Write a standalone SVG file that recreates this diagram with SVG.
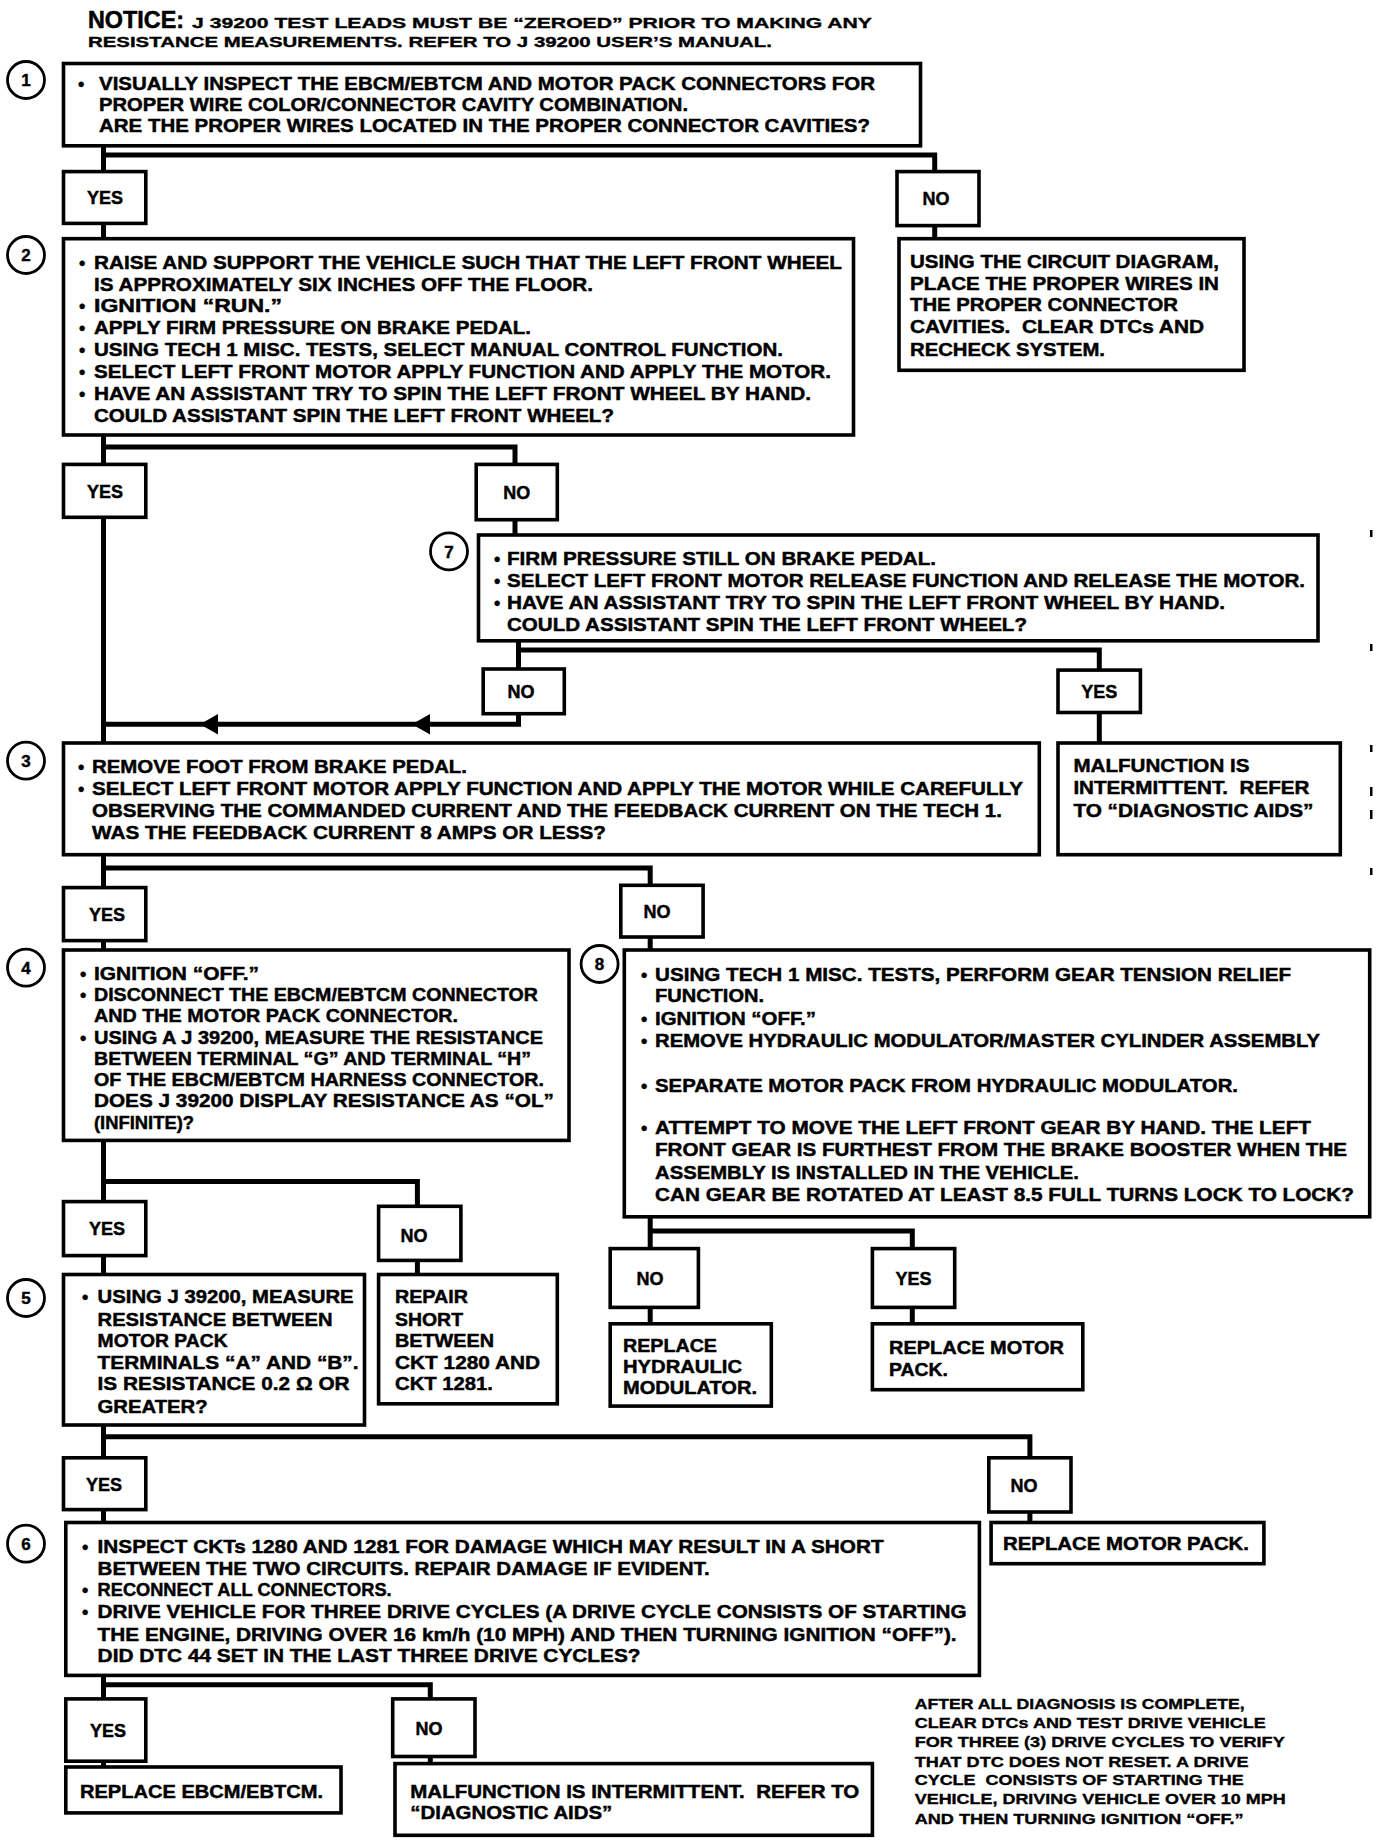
<svg xmlns="http://www.w3.org/2000/svg" width="1392" height="1844" viewBox="0 0 1392 1844">
<style>
.bg{fill:#fff}
.box{fill:#fff;stroke:#000;stroke-width:3.6}
.conn{fill:none;stroke:#000;stroke-width:5;stroke-linejoin:miter}
.arr{fill:#000}
.cir{fill:#fff;stroke:#000;stroke-width:2.8}
.t{font-family:"Liberation Sans",Arial,Helvetica,sans-serif;font-weight:bold;font-size:18px;fill:#000;stroke:#000;stroke-width:0.45}
.s{font-size:15px;stroke-width:0.35}
.lbl{text-anchor:middle}
.num{font-family:"Liberation Sans",Arial,sans-serif;font-weight:bold;font-size:17px;text-anchor:middle;fill:#000;stroke:#000;stroke-width:0.4}
.hd1{font-size:23px;stroke-width:0.5}
.tick{fill:#000}
</style>
<rect class="bg" x="0" y="0" width="1392" height="1844"/>

<g id="notice">
<text class="t hd1" x="88" y="28" textLength="96" lengthAdjust="spacingAndGlyphs">NOTICE:</text>
<text class="t s" x="192" y="28" textLength="680" lengthAdjust="spacingAndGlyphs">J 39200 TEST LEADS MUST BE “ZEROED” PRIOR TO MAKING ANY</text>
<text class="t s" x="88" y="47" textLength="684" lengthAdjust="spacingAndGlyphs">RESISTANCE MEASUREMENTS. REFER TO J 39200 USER’S MANUAL.</text>
</g>

<g id="connectors">
<path class="conn" d="M103.5,146 V172 M103.5,155 H934.7 V172"/>
<path class="conn" d="M103.5,223 V239"/>
<path class="conn" d="M934.7,226 V239"/>
<path class="conn" d="M103.5,435 V464 M103.5,447 H515 V464"/>
<path class="conn" d="M515,520 V535"/>
<path class="conn" d="M518.5,641 V669 M518.5,650 H1099.3 V670"/>
<path class="conn" d="M1099.3,712 V743"/>
<path class="conn" d="M518.5,713 V724.2 H103.5"/>
<polygon class="arr" points="200,724.2 218,714 218,734.4"/>
<polygon class="arr" points="412,724.2 430,714 430,734.4"/>
<path class="conn" d="M103.5,517 V743"/>
<path class="conn" d="M103.5,855 V888 M103.5,868 H650.2 V885"/>
<path class="conn" d="M103.5,940 V950"/>
<path class="conn" d="M650.2,937 V950"/>
<path class="conn" d="M103.5,1140 V1202 M103.5,1181.6 H417.4 V1206"/>
<path class="conn" d="M103.5,1255 V1275"/>
<path class="conn" d="M417.4,1260 V1275"/>
<path class="conn" d="M650.2,1217 V1249 M650.2,1231 H912.3 V1249"/>
<path class="conn" d="M650.2,1307 V1324"/>
<path class="conn" d="M912.3,1307 V1324"/>
<path class="conn" d="M103.5,1425 V1458 M103.5,1436.7 H1029.9 V1458"/>
<path class="conn" d="M103.5,1509 V1523"/>
<path class="conn" d="M1029.9,1512 V1523"/>
<path class="conn" d="M103.5,1675 V1699 M103.5,1684.8 H430.3 V1699"/>
<path class="conn" d="M103.5,1761 V1767"/>
<path class="conn" d="M430.3,1756 V1764"/>
</g>

<g id="step1">
<circle class="cir" cx="26" cy="80" r="18.5"/>
<text class="num" x="26" y="86">1</text>
<rect class="box" x="63.5" y="63.5" width="857" height="82.3"/>
<text class="t" x="78" y="90">•</text>
<text class="t" x="99" y="90" textLength="776" lengthAdjust="spacingAndGlyphs">VISUALLY INSPECT THE EBCM/EBTCM AND MOTOR PACK CONNECTORS FOR</text>
<text class="t" x="99" y="111" textLength="589" lengthAdjust="spacingAndGlyphs">PROPER WIRE COLOR/CONNECTOR CAVITY COMBINATION.</text>
<text class="t" x="99" y="132" textLength="771" lengthAdjust="spacingAndGlyphs">ARE THE PROPER WIRES LOCATED IN THE PROPER CONNECTOR CAVITIES?</text>
</g>

<g id="yes1">
<rect class="box" x="63.5" y="171.6" width="82.3" height="51.8"/>
<text class="t lbl" x="105" y="204">YES</text>
</g>
<g id="no1">
<rect class="box" x="897" y="171.6" width="82" height="54"/>
<text class="t lbl" x="936" y="205">NO</text>
</g>
<g id="fix-wires">
<rect class="box" x="899" y="238.7" width="345" height="131.6"/>
<text class="t" x="910" y="267.5" textLength="309" lengthAdjust="spacingAndGlyphs">USING THE CIRCUIT DIAGRAM,</text>
<text class="t" x="910" y="289.8" textLength="309" lengthAdjust="spacingAndGlyphs">PLACE THE PROPER WIRES IN</text>
<text class="t" x="910" y="311" textLength="268" lengthAdjust="spacingAndGlyphs">THE PROPER CONNECTOR</text>
<text class="t" x="910" y="333.4" textLength="294" lengthAdjust="spacingAndGlyphs" xml:space="preserve">CAVITIES.  CLEAR DTCs AND</text>
<text class="t" x="910" y="355.6" textLength="195" lengthAdjust="spacingAndGlyphs">RECHECK SYSTEM.</text>
</g>

<g id="step2">
<circle class="cir" cx="26" cy="255" r="18.5"/>
<text class="num" x="26" y="261">2</text>
<rect class="box" x="63.5" y="238.7" width="790" height="196.3"/>
<text class="t" x="79" y="268.6">•</text>
<text class="t" x="94" y="268.6" textLength="748" lengthAdjust="spacingAndGlyphs">RAISE AND SUPPORT THE VEHICLE SUCH THAT THE LEFT FRONT WHEEL</text>
<text class="t" x="94" y="290.5" textLength="499" lengthAdjust="spacingAndGlyphs">IS APPROXIMATELY SIX INCHES OFF THE FLOOR.</text>
<text class="t" x="79" y="312.3">•</text>
<text class="t" x="94" y="312.3" textLength="188" lengthAdjust="spacingAndGlyphs">IGNITION “RUN.”</text>
<text class="t" x="79" y="334.2">•</text>
<text class="t" x="94" y="334.2" textLength="437" lengthAdjust="spacingAndGlyphs">APPLY FIRM PRESSURE ON BRAKE PEDAL.</text>
<text class="t" x="79" y="356">•</text>
<text class="t" x="94" y="356" textLength="689" lengthAdjust="spacingAndGlyphs">USING TECH 1 MISC. TESTS, SELECT MANUAL CONTROL FUNCTION.</text>
<text class="t" x="79" y="377.9">•</text>
<text class="t" x="94" y="377.9" textLength="737" lengthAdjust="spacingAndGlyphs">SELECT LEFT FRONT MOTOR APPLY FUNCTION AND APPLY THE MOTOR.</text>
<text class="t" x="79" y="399.7">•</text>
<text class="t" x="94" y="399.7" textLength="717" lengthAdjust="spacingAndGlyphs">HAVE AN ASSISTANT TRY TO SPIN THE LEFT FRONT WHEEL BY HAND.</text>
<text class="t" x="94" y="421.6" textLength="520" lengthAdjust="spacingAndGlyphs">COULD ASSISTANT SPIN THE LEFT FRONT WHEEL?</text>
</g>

<g id="yes2">
<rect class="box" x="63.5" y="464.4" width="82.3" height="52.9"/>
<text class="t lbl" x="105" y="497.5">YES</text>
</g>
<g id="no2">
<rect class="box" x="476.2" y="464.4" width="81.1" height="55.3"/>
<text class="t lbl" x="516.7" y="498.5">NO</text>
</g>

<g id="step7">
<circle class="cir" cx="449" cy="551.4" r="18.5"/>
<text class="num" x="449" y="557.5">7</text>
<rect class="box" x="478.5" y="535" width="839.5" height="105.8"/>
<text class="t" x="494" y="565">•</text>
<text class="t" x="507" y="565" textLength="429" lengthAdjust="spacingAndGlyphs">FIRM PRESSURE STILL ON BRAKE PEDAL.</text>
<text class="t" x="494" y="586.9">•</text>
<text class="t" x="507" y="586.9" textLength="798" lengthAdjust="spacingAndGlyphs">SELECT LEFT FRONT MOTOR RELEASE FUNCTION AND RELEASE THE MOTOR.</text>
<text class="t" x="494" y="608.8">•</text>
<text class="t" x="507" y="608.8" textLength="718" lengthAdjust="spacingAndGlyphs">HAVE AN ASSISTANT TRY TO SPIN THE LEFT FRONT WHEEL BY HAND.</text>
<text class="t" x="507" y="630.7" textLength="520" lengthAdjust="spacingAndGlyphs">COULD ASSISTANT SPIN THE LEFT FRONT WHEEL?</text>
</g>

<g id="no7">
<rect class="box" x="483.2" y="669" width="81.1" height="44.7"/>
<text class="t lbl" x="521" y="697.8">NO</text>
</g>
<g id="yes7">
<rect class="box" x="1058" y="670.1" width="82.4" height="42.4"/>
<text class="t lbl" x="1099.2" y="697.8">YES</text>
</g>
<g id="intermittent1">
<rect class="box" x="1058" y="743" width="282.3" height="111.7"/>
<text class="t" x="1073.4" y="771.9" textLength="176" lengthAdjust="spacingAndGlyphs">MALFUNCTION IS</text>
<text class="t" x="1073.4" y="794.2" textLength="236" lengthAdjust="spacingAndGlyphs" xml:space="preserve">INTERMITTENT.  REFER</text>
<text class="t" x="1073.4" y="816.5" textLength="240" lengthAdjust="spacingAndGlyphs">TO “DIAGNOSTIC AIDS”</text>
</g>

<g id="step3">
<circle class="cir" cx="26" cy="760.7" r="18.5"/>
<text class="num" x="26" y="766.8">3</text>
<rect class="box" x="63.5" y="743" width="975.8" height="111.7"/>
<text class="t" x="78" y="773">•</text>
<text class="t" x="92" y="773" textLength="375" lengthAdjust="spacingAndGlyphs">REMOVE FOOT FROM BRAKE PEDAL.</text>
<text class="t" x="78" y="794.9">•</text>
<text class="t" x="92" y="794.9" textLength="931" lengthAdjust="spacingAndGlyphs">SELECT LEFT FRONT MOTOR APPLY FUNCTION AND APPLY THE MOTOR WHILE CAREFULLY</text>
<text class="t" x="92" y="816.8" textLength="910" lengthAdjust="spacingAndGlyphs">OBSERVING THE COMMANDED CURRENT AND THE FEEDBACK CURRENT ON THE TECH 1.</text>
<text class="t" x="92" y="838.7" textLength="514" lengthAdjust="spacingAndGlyphs">WAS THE FEEDBACK CURRENT 8 AMPS OR LESS?</text>
</g>

<g id="yes3">
<rect class="box" x="63.5" y="887.6" width="82.3" height="53"/>
<text class="t lbl" x="107" y="920.5">YES</text>
</g>
<g id="no3">
<rect class="box" x="620.8" y="885.3" width="82.3" height="51.7"/>
<text class="t lbl" x="657" y="917.5">NO</text>
</g>

<g id="step4">
<circle class="cir" cx="26" cy="967.6" r="18.5"/>
<text class="num" x="26" y="973.7">4</text>
<rect class="box" x="63.5" y="950" width="505.5" height="190.4"/>
<text class="t" x="80" y="980">•</text>
<text class="t" x="94" y="980" textLength="165" lengthAdjust="spacingAndGlyphs">IGNITION “OFF.”</text>
<text class="t" x="80" y="1001.1">•</text>
<text class="t" x="94" y="1001.1" textLength="444" lengthAdjust="spacingAndGlyphs">DISCONNECT THE EBCM/EBTCM CONNECTOR</text>
<text class="t" x="94" y="1022.3" textLength="364" lengthAdjust="spacingAndGlyphs">AND THE MOTOR PACK CONNECTOR.</text>
<text class="t" x="80" y="1043.5">•</text>
<text class="t" x="94" y="1043.5" textLength="449" lengthAdjust="spacingAndGlyphs">USING A J 39200, MEASURE THE RESISTANCE</text>
<text class="t" x="94" y="1064.6" textLength="437" lengthAdjust="spacingAndGlyphs">BETWEEN TERMINAL “G” AND TERMINAL “H”</text>
<text class="t" x="94" y="1085.8" textLength="450" lengthAdjust="spacingAndGlyphs">OF THE EBCM/EBTCM HARNESS CONNECTOR.</text>
<text class="t" x="94" y="1107" textLength="460" lengthAdjust="spacingAndGlyphs">DOES J 39200 DISPLAY RESISTANCE AS “OL”</text>
<text class="t" x="94" y="1129.3" textLength="100" lengthAdjust="spacingAndGlyphs">(INFINITE)?</text>
</g>

<g id="step8">
<circle class="cir" cx="599.6" cy="964" r="18.5"/>
<text class="num" x="599.6" y="970">8</text>
<rect class="box" x="624.3" y="950" width="745.4" height="266.8"/>
<text class="t" x="641" y="981.1">•</text>
<text class="t" x="655" y="981.1" textLength="636" lengthAdjust="spacingAndGlyphs">USING TECH 1 MISC. TESTS, PERFORM GEAR TENSION RELIEF</text>
<text class="t" x="655" y="1002.3" textLength="109" lengthAdjust="spacingAndGlyphs">FUNCTION.</text>
<text class="t" x="641" y="1024.6">•</text>
<text class="t" x="655" y="1024.6" textLength="161" lengthAdjust="spacingAndGlyphs">IGNITION “OFF.”</text>
<text class="t" x="641" y="1047">•</text>
<text class="t" x="655" y="1047" textLength="665" lengthAdjust="spacingAndGlyphs">REMOVE HYDRAULIC MODULATOR/MASTER CYLINDER ASSEMBLY</text>
<text class="t" x="641" y="1091.6">•</text>
<text class="t" x="655" y="1091.6" textLength="583" lengthAdjust="spacingAndGlyphs">SEPARATE MOTOR PACK FROM HYDRAULIC MODULATOR.</text>
<text class="t" x="641" y="1134">•</text>
<text class="t" x="655" y="1134" textLength="656" lengthAdjust="spacingAndGlyphs">ATTEMPT TO MOVE THE LEFT FRONT GEAR BY HAND. THE LEFT</text>
<text class="t" x="655" y="1156.3" textLength="692" lengthAdjust="spacingAndGlyphs">FRONT GEAR IS FURTHEST FROM THE BRAKE BOOSTER WHEN THE</text>
<text class="t" x="655" y="1178.6" textLength="424" lengthAdjust="spacingAndGlyphs">ASSEMBLY IS INSTALLED IN THE VEHICLE.</text>
<text class="t" x="655" y="1201" textLength="699" lengthAdjust="spacingAndGlyphs">CAN GEAR BE ROTATED AT LEAST 8.5 FULL TURNS LOCK TO LOCK?</text>
</g>

<g id="yes4">
<rect class="box" x="63.5" y="1201.6" width="82.3" height="54"/>
<text class="t lbl" x="107" y="1235">YES</text>
</g>
<g id="no4">
<rect class="box" x="378.6" y="1206.3" width="82.3" height="54.1"/>
<text class="t lbl" x="414" y="1241.5">NO</text>
</g>

<g id="no8">
<rect class="box" x="610.2" y="1248.6" width="88.2" height="58.8"/>
<text class="t lbl" x="650" y="1284.5">NO</text>
</g>
<g id="yes8">
<rect class="box" x="872.4" y="1248.6" width="82.3" height="58.8"/>
<text class="t lbl" x="913.5" y="1284.5">YES</text>
</g>
<g id="replace-modulator">
<rect class="box" x="610.2" y="1323.8" width="161.1" height="82.3"/>
<text class="t" x="623" y="1351.5" textLength="94" lengthAdjust="spacingAndGlyphs">REPLACE</text>
<text class="t" x="623" y="1372.6" textLength="119" lengthAdjust="spacingAndGlyphs">HYDRAULIC</text>
<text class="t" x="623" y="1393.8" textLength="134" lengthAdjust="spacingAndGlyphs">MODULATOR.</text>
</g>
<g id="replace-motor-pack-1">
<rect class="box" x="872.4" y="1323.8" width="210.4" height="65.9"/>
<text class="t" x="889" y="1353.8" textLength="175" lengthAdjust="spacingAndGlyphs">REPLACE MOTOR</text>
<text class="t" x="889" y="1376.1" textLength="59" lengthAdjust="spacingAndGlyphs">PACK.</text>
</g>

<g id="step5">
<circle class="cir" cx="26" cy="1298" r="18.5"/>
<text class="num" x="26" y="1304">5</text>
<rect class="box" x="63.5" y="1274.5" width="301" height="150.5"/>
<text class="t" x="82" y="1303.3">•</text>
<text class="t" x="97.6" y="1303.3" textLength="256" lengthAdjust="spacingAndGlyphs">USING J 39200, MEASURE</text>
<text class="t" x="97.6" y="1325.6" textLength="235" lengthAdjust="spacingAndGlyphs">RESISTANCE BETWEEN</text>
<text class="t" x="97.6" y="1346.8" textLength="130" lengthAdjust="spacingAndGlyphs">MOTOR PACK</text>
<text class="t" x="97.6" y="1369.1" textLength="261" lengthAdjust="spacingAndGlyphs">TERMINALS “A” AND “B”.</text>
<text class="t" x="97.6" y="1390.3" textLength="252" lengthAdjust="spacingAndGlyphs">IS RESISTANCE 0.2 Ω OR</text>
<text class="t" x="97.6" y="1412.6" textLength="110" lengthAdjust="spacingAndGlyphs">GREATER?</text>
</g>
<g id="repair-short">
<rect class="box" x="378.6" y="1274.5" width="178.7" height="129.3"/>
<text class="t" x="395" y="1303.3" textLength="73" lengthAdjust="spacingAndGlyphs">REPAIR</text>
<text class="t" x="395" y="1325.6" textLength="68" lengthAdjust="spacingAndGlyphs">SHORT</text>
<text class="t" x="395" y="1346.8" textLength="99" lengthAdjust="spacingAndGlyphs">BETWEEN</text>
<text class="t" x="395" y="1369.1" textLength="145" lengthAdjust="spacingAndGlyphs">CKT 1280 AND</text>
<text class="t" x="395" y="1390.3" textLength="98" lengthAdjust="spacingAndGlyphs">CKT 1281.</text>
</g>

<g id="yes5">
<rect class="box" x="63.5" y="1457.8" width="82.3" height="51.8"/>
<text class="t lbl" x="104" y="1490.5">YES</text>
</g>
<g id="no5">
<rect class="box" x="988.8" y="1457.8" width="82.2" height="54.2"/>
<text class="t lbl" x="1024" y="1491.5">NO</text>
</g>
<g id="replace-motor-pack-2">
<rect class="box" x="991.1" y="1522.5" width="272.8" height="41.2"/>
<text class="t" x="1003" y="1550.2" textLength="246" lengthAdjust="spacingAndGlyphs">REPLACE MOTOR PACK.</text>
</g>

<g id="step6">
<circle class="cir" cx="26" cy="1543.7" r="18.5"/>
<text class="num" x="26" y="1549.8">6</text>
<rect class="box" x="65.8" y="1522.5" width="913.6" height="152.9"/>
<text class="t" x="82" y="1552.5">•</text>
<text class="t" x="97.6" y="1552.5" textLength="786" lengthAdjust="spacingAndGlyphs">INSPECT CKTs 1280 AND 1281 FOR DAMAGE WHICH MAY RESULT IN A SHORT</text>
<text class="t" x="97.6" y="1574.8" textLength="612" lengthAdjust="spacingAndGlyphs">BETWEEN THE TWO CIRCUITS. REPAIR DAMAGE IF EVIDENT.</text>
<text class="t" x="82" y="1596">•</text>
<text class="t" x="97.6" y="1596" textLength="294" lengthAdjust="spacingAndGlyphs">RECONNECT ALL CONNECTORS.</text>
<text class="t" x="82" y="1618.3">•</text>
<text class="t" x="97.6" y="1618.3" textLength="869" lengthAdjust="spacingAndGlyphs">DRIVE VEHICLE FOR THREE DRIVE CYCLES (A DRIVE CYCLE CONSISTS OF STARTING</text>
<text class="t" x="97.6" y="1640.7" textLength="859" lengthAdjust="spacingAndGlyphs">THE ENGINE, DRIVING OVER 16 km/h (10 MPH) AND THEN TURNING IGNITION “OFF”).</text>
<text class="t" x="97.6" y="1661.9" textLength="543" lengthAdjust="spacingAndGlyphs">DID DTC 44 SET IN THE LAST THREE DRIVE CYCLES?</text>
</g>

<g id="yes6">
<rect class="box" x="65.8" y="1698.9" width="80" height="62.3"/>
<text class="t lbl" x="108" y="1736.5">YES</text>
</g>
<g id="no6">
<rect class="box" x="392.7" y="1698.9" width="82.3" height="57.6"/>
<text class="t lbl" x="429" y="1734.5">NO</text>
</g>
<g id="replace-ebcm">
<rect class="box" x="65.8" y="1767" width="275.2" height="45.9"/>
<text class="t" x="80" y="1798.2" textLength="243" lengthAdjust="spacingAndGlyphs">REPLACE EBCM/EBTCM.</text>
</g>
<g id="intermittent2">
<rect class="box" x="395" y="1763.6" width="477.4" height="71.7"/>
<text class="t" x="410.3" y="1798.2" textLength="449" lengthAdjust="spacingAndGlyphs" xml:space="preserve">MALFUNCTION IS INTERMITTENT.  REFER TO</text>
<text class="t" x="410.3" y="1819.4" textLength="202" lengthAdjust="spacingAndGlyphs">“DIAGNOSTIC AIDS”</text>
</g>

<g id="final-note">
<text class="t s" x="914.7" y="1708.9" textLength="330" lengthAdjust="spacingAndGlyphs">AFTER ALL DIAGNOSIS IS COMPLETE,</text>
<text class="t s" x="914.7" y="1727.7" textLength="351" lengthAdjust="spacingAndGlyphs">CLEAR DTCs AND TEST DRIVE VEHICLE</text>
<text class="t s" x="914.7" y="1746.5" textLength="370" lengthAdjust="spacingAndGlyphs">FOR THREE (3) DRIVE CYCLES TO VERIFY</text>
<text class="t s" x="914.7" y="1766.5" textLength="334" lengthAdjust="spacingAndGlyphs">THAT DTC DOES NOT RESET. A DRIVE</text>
<text class="t s" x="914.7" y="1785.3" textLength="329" lengthAdjust="spacingAndGlyphs" xml:space="preserve">CYCLE  CONSISTS OF STARTING THE</text>
<text class="t s" x="914.7" y="1804.1" textLength="371" lengthAdjust="spacingAndGlyphs">VEHICLE, DRIVING VEHICLE OVER 10 MPH</text>
<text class="t s" x="914.7" y="1824.1" textLength="329" lengthAdjust="spacingAndGlyphs">AND THEN TURNING IGNITION “OFF.”</text>
</g>

<g id="margin-marks">
<rect class="tick" x="1370" y="530" width="2.5" height="7"/>
<rect class="tick" x="1370" y="644" width="2.5" height="7"/>
<rect class="tick" x="1370" y="745" width="2.5" height="7"/>
<rect class="tick" x="1370" y="787" width="2.5" height="9"/>
<rect class="tick" x="1370" y="810" width="2.5" height="9"/>
<rect class="tick" x="1370" y="868" width="2.5" height="7"/>
</g>
</svg>
